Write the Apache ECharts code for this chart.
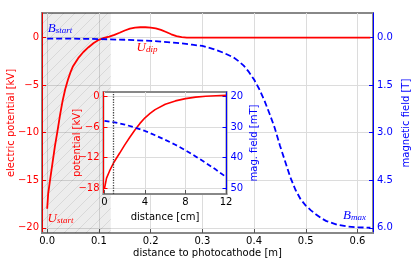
<!DOCTYPE html>
<html><head><meta charset="utf-8">
<script src="https://cdn.jsdelivr.net/npm/echarts@6/dist/echarts.min.js"></script>
<style>html,body{margin:0;padding:0;background:#fff}#c{width:415px;height:260px}</style>
</head><body><div id="c"></div>
<script>
// ---- main panel data ----
const potDistM = [0,0.002,0.005,0.01,0.015,0.02,0.025,0.03,0.035,0.04,0.045,0.05,0.06,0.07,0.08,0.09,0.1,0.11,0.12,0.13,0.14,0.15,0.16,0.17,0.18,0.19,0.2,0.21,0.22,0.23,0.24,0.25,0.26,0.27,0.28,0.35,0.45,0.55,0.625];
const potentialKV = [-18,-16.4,-15.2,-13.3,-11.4,-9.8,-8.1,-6.6,-5.4,-4.45,-3.65,-3.0,-2.15,-1.5,-1.0,-0.55,-0.22,-0.02,0.12,0.3,0.52,0.76,0.95,1.06,1.1,1.1,1.07,0.98,0.82,0.6,0.36,0.17,0.06,0.015,0,0,0,0,0];
const fieldDistM = [0,0.05,0.1,0.15,0.2,0.25,0.28,0.3,0.32,0.34,0.36,0.37,0.38,0.39,0.4,0.41,0.42,0.43,0.44,0.45,0.46,0.47,0.48,0.49,0.5,0.51,0.52,0.53,0.54,0.56,0.58,0.6,0.625];
const fieldT = [0.028,0.031,0.042,0.065,0.1,0.16,0.22,0.26,0.35,0.47,0.62,0.74,0.88,1.08,1.32,1.62,1.98,2.4,2.85,3.4,3.9,4.4,4.8,5.1,5.3,5.45,5.58,5.7,5.79,5.9,5.96,5.985,6.0];
const shadeRangeM = [-0.01, 0.123];
const xTicksM = [0,0.1,0.2,0.3,0.4,0.5,0.6];
const kvTicks = [-20,-15,-10,-5,0];
const tTicks = [0,1.5,3,4.5,6];
// ---- inset data ----
const insetDistCm = [0,0.2,0.5,0.9,1.5,2,2.5,3,3.5,4,4.5,5,6,7,8,9,10,11,12];
const insetPotKV = [-18,-16.0,-14.6,-13.0,-11.1,-9.5,-8.0,-6.6,-5.3,-4.2,-3.35,-2.6,-1.55,-0.9,-0.45,-0.16,0.02,0.12,0.18];
const insetFieldDistCm = [0,1,2,3,4,5,6,7,8,9,10,11,12];
const insetFieldMT = [28,28.5,29.2,30.2,31.3,32.7,34.2,35.8,37.6,39.6,41.7,43.9,46.3];
const insetMarkerCm = 0.9;
const insetXTicks = [0,4,8,12];
const insetKvTicks = [-18,-12,-6,0];
const insetMtTicks = [20,30,40,50];

const RED = '#ff0000', BLUE = '#0000ff', FONT = 'DejaVu Sans';
const minus = s => String(s).replace('-', '\u2212');
const zip = (a, b) => a.map((v, i) => [v, b[i]]);

// hatch pattern
const pc = document.createElement('canvas');
pc.width = 11; pc.height = 11;
const g = pc.getContext('2d');
g.fillStyle = 'rgba(0,0,0,0.07)'; g.fillRect(0, 0, 11, 11);
g.strokeStyle = 'rgba(0,0,0,0.11)'; g.lineWidth = 0.8;
g.beginPath(); g.moveTo(-1, 12); g.lineTo(12, -1); g.stroke();

const mathRich = (col) => ({
  m: {fontFamily: 'Liberation Serif', fontStyle: 'italic', fontSize: 13, lineHeight: 13, color: col, verticalAlign: 'top'},
  s: {fontFamily: 'Liberation Serif', fontStyle: 'italic', fontSize: 9, lineHeight: 9, color: col, verticalAlign: 'bottom', padding: [6, 0, 0, 0]}
});
const mpLabel = (col) => ({show: true, position: [0, 0], align: 'left', verticalAlign: 'bottom', formatter: p => p.name, rich: mathRich(col)});

const splitL = {show: true, lineStyle: {color: '#dcdcdc', width: 1}};
const nameStyle = (col) => ({color: col, fontSize: 10, fontFamily: FONT});

const chart = echarts.init(document.getElementById('c'), null, {renderer: 'canvas'});
chart.setOption({
  animation: false,
  textStyle: {fontFamily: FONT},
  grid: [
    {left: 42, top: 13, right: 42, bottom: 27, show: true, borderColor: '#888', borderWidth: 2, backgroundColor: 'transparent', outerBoundsMode: 'none', containLabel: false},
    {left: 103.5, top: 92, width: 123, height: 102, show: true, borderColor: '#888', borderWidth: 2, backgroundColor: '#fff', z: 10, outerBoundsMode: 'none', containLabel: false}
  ],
  xAxis: [
    {type: 'value', gridIndex: 0, min: -0.01, max: 0.63,
     name: 'distance to photocathode [m]', nameLocation: 'middle', nameGap: 15, nameMoveOverlap: false,
     nameTextStyle: nameStyle('#000'),
     axisLine: {onZero: false, lineStyle: {color: '#888', width: 2}},
     axisTick: {inside: true, length: 4, customValues: xTicksM, lineStyle: {color: '#555'}},
     axisLabel: {customValues: xTicksM, formatter: v => v.toFixed(1), color: '#000', fontSize: 10, margin: 3, fontFamily: FONT},
     splitLine: splitL},
    {type: 'value', gridIndex: 1, min: -0.1, max: 12.05, z: 11,
     name: 'distance [cm]', nameLocation: 'middle', nameGap: 18, nameMoveOverlap: false,
     nameTextStyle: nameStyle('#000'),
     axisLine: {onZero: false, lineStyle: {color: '#888', width: 2}},
     axisTick: {inside: true, length: 4, customValues: insetXTicks, lineStyle: {color: '#555'}},
     axisLabel: {customValues: insetXTicks, color: '#000', fontSize: 10, margin: 3, fontFamily: FONT},
     splitLine: splitL}
  ],
  yAxis: [
    {type: 'value', gridIndex: 0, min: -20.55, max: 2.6,
     name: 'electric potential [kV]', nameLocation: 'middle', nameGap: 26, nameRotate: 90, nameMoveOverlap: false,
     nameTextStyle: nameStyle(RED),
     axisLine: {show: true, onZero: false, lineStyle: {color: RED, width: 1}},
     axisTick: {show: true, inside: true, length: 4, customValues: kvTicks, lineStyle: {color: RED}},
     axisLabel: {customValues: kvTicks, formatter: v => minus(v), color: RED, fontSize: 10, margin: 3, fontFamily: FONT},
     splitLine: splitL},
    {type: 'value', gridIndex: 0, inverse: true, min: -0.78, max: 6.165, position: 'right',
     name: 'magnetic field [T]', nameLocation: 'middle', nameGap: 28, nameRotate: 90, nameMoveOverlap: false,
     nameTextStyle: nameStyle(BLUE),
     axisLine: {show: true, onZero: false, lineStyle: {color: BLUE, width: 1}},
     axisTick: {show: true, inside: true, length: 4, customValues: tTicks, lineStyle: {color: BLUE}},
     axisLabel: {customValues: tTicks, formatter: v => v.toFixed(1), color: BLUE, fontSize: 10, margin: 4, fontFamily: FONT},
     splitLine: {show: false}},
    {type: 'value', gridIndex: 1, min: -19.11, max: 0.84, z: 11,
     name: 'potential [kV]', nameLocation: 'middle', nameGap: 21, nameRotate: 90, nameMoveOverlap: false,
     nameTextStyle: nameStyle(RED),
     axisLine: {show: true, onZero: false, lineStyle: {color: RED, width: 1}},
     axisTick: {show: true, inside: true, length: 4, customValues: insetKvTicks, lineStyle: {color: RED}},
     axisLabel: {customValues: insetKvTicks, formatter: v => minus(v), color: RED, fontSize: 10, margin: 4, fontFamily: FONT},
     splitLine: splitL},
    {type: 'value', gridIndex: 1, inverse: true, min: 18.6, max: 51.85, position: 'right', z: 11,
     name: 'mag. field [mT]', nameLocation: 'middle', nameGap: 23, nameRotate: 90, nameMoveOverlap: false,
     nameTextStyle: nameStyle(BLUE),
     axisLine: {show: true, onZero: false, lineStyle: {color: BLUE, width: 1}},
     axisTick: {show: true, inside: true, length: 4, customValues: insetMtTicks, lineStyle: {color: BLUE}},
     axisLabel: {customValues: insetMtTicks, color: BLUE, fontSize: 10, margin: 4, fontFamily: FONT},
     splitLine: {show: false}}
  ],
  series: [
    {type: 'line', name: 'U', xAxisIndex: 0, yAxisIndex: 0, data: zip(potDistM, potentialKV),
     showSymbol: false, lineStyle: {color: RED, width: 1.8}, z: 3,
     markArea: {silent: true, itemStyle: {color: {image: pc, repeat: 'repeat'}},
       data: [[{xAxis: shadeRangeM[0]}, {xAxis: shadeRangeM[1]}]]},
     markPoint: {symbol: 'circle', symbolSize: 0.1, itemStyle: {color: 'rgba(0,0,0,0)'}, label: mpLabel(RED),
       data: [
         {name: '{m|U}{s|start}', coord: [0.0008, -19.75]},
         {name: '{m|U}{s|dip}', coord: [0.173, -1.75]}
       ]}},
    {type: 'line', name: 'B', xAxisIndex: 0, yAxisIndex: 1, data: zip(fieldDistM, fieldT),
     showSymbol: false, lineStyle: {color: BLUE, width: 1.8, type: [6, 3]}, z: 4,
     markPoint: {symbol: 'circle', symbolSize: 0.1, itemStyle: {color: 'rgba(0,0,0,0)'}, label: mpLabel(BLUE),
       data: [
         {name: '{m|B}{s|start}', coord: [0.0012, -0.08]},
         {name: '{m|B}{s|max}', coord: [0.572, 5.82]}
       ]}},
    {type: 'line', xAxisIndex: 1, yAxisIndex: 2, data: zip(insetDistCm, insetPotKV),
     showSymbol: false, lineStyle: {color: RED, width: 1.6}, z: 12,
     markLine: {silent: true, symbol: ['none', 'none'], label: {show: false}, z: 13,
       lineStyle: {color: '#444', type: 'dotted', width: 1.3}, data: [{xAxis: insetMarkerCm}]}},
    {type: 'line', xAxisIndex: 1, yAxisIndex: 3, data: zip(insetFieldDistCm, insetFieldMT),
     showSymbol: false, lineStyle: {color: BLUE, width: 1.8, type: [5, 3]}, z: 12}
  ]
});
</script></body></html>
